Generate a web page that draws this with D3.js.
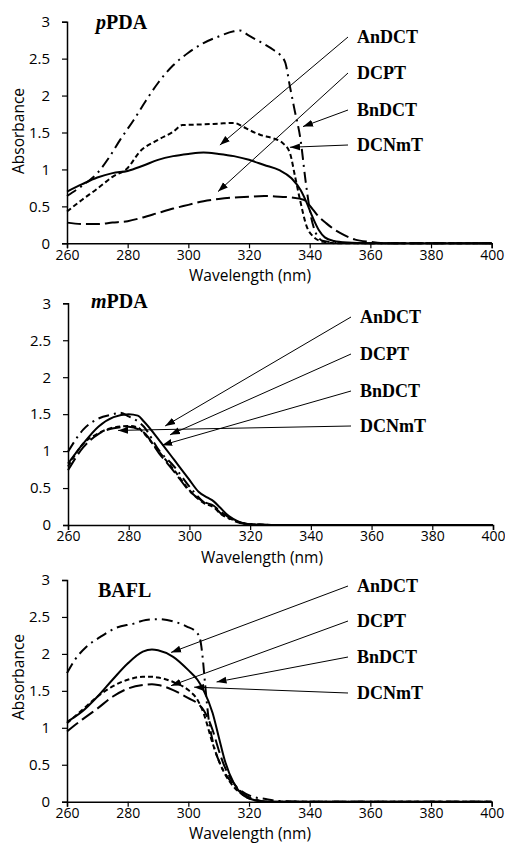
<!DOCTYPE html>
<html>
<head>
<meta charset="utf-8">
<script src="https://cdn.jsdelivr.net/npm/d3@7"></script>
<style>
  body { margin: 0; background: #fff; }
  .tick text { font-family: "Open Sans", sans-serif; font-size: 15px; fill: #000; }
  .xax .tick text { font-size: 14px; }
  .axisTitle { font-family: "Open Sans", sans-serif; font-size: 15.5px; fill: #000; }
  .panelTitle, .seriesLabel { font-family: "Liberation Serif", "Times New Roman", serif; font-weight: bold; fill: #000; }
</style>
</head>
<body>
<div id="chart"></div>
<script>
// series, shared ticks
var seriesNames = ["AnDCT", "DCPT", "BnDCT", "DCNmT"];
var xTicks = [260, 280, 300, 320, 340, 360, 380, 400];
var yTicks = [0, 0.5, 1, 1.5, 2, 2.5, 3];

// pPDA  [wavelength, absorbance]
var pAnDCT = [[260,0.70],[265,0.80],[270,0.89],[275,0.95],[280,0.98],[285,1.05],[290,1.13],[295,1.18],[300,1.21],[305,1.23],[310,1.21],[315,1.18],[320,1.13],[325,1.06],[330,0.99],[334,0.88],[337,0.72],[339,0.55],[341,0.35],[343,0.18],[345,0.08],[348,0.03],[352,0.01],[360,0],[400,0]];
var pDCPT = [[260,0.28],[265,0.26],[270,0.26],[275,0.28],[280,0.30],[285,0.35],[290,0.41],[295,0.47],[300,0.52],[305,0.57],[310,0.60],[315,0.62],[320,0.63],[325,0.64],[330,0.63],[334,0.62],[338,0.59],[341,0.46],[343,0.36],[345.5,0.27],[348,0.19],[350,0.14],[355,0.05],[360,0.02],[365,0],[400,0]];
var pBnDCT = [[260,0.64],[265,0.78],[270,0.95],[274,1.17],[277.5,1.40],[282,1.67],[286,1.93],[290,2.17],[295,2.41],[300,2.58],[305,2.71],[310,2.80],[315,2.87],[317,2.88],[320,2.81],[324,2.72],[328,2.62],[330.5,2.54],[332,2.44],[333.5,2.12],[335,1.81],[337,1.40],[338.6,0.86],[340.2,0.41],[342,0.14],[344.5,0.03],[350,0.01],[360,0],[400,0]];
var pDCNmT = [[260,0.43],[265,0.59],[270,0.74],[275,0.90],[280,1.02],[284,1.24],[290,1.40],[295,1.51],[298,1.60],[305,1.61],[310,1.62],[315,1.63],[318,1.58],[320.3,1.53],[323.6,1.47],[328,1.42],[331.3,1.35],[333.5,1.22],[335.2,0.90],[336.8,0.59],[339,0.23],[341.2,0.09],[344.5,0.02],[350,0],[400,0]];

// mPDA
var mAnDCT = [[260,0.83],[265,1.10],[270,1.33],[275,1.46],[280,1.50],[283,1.48],[285,1.40],[290,1.15],[295,0.88],[300,0.61],[303,0.45],[306,0.37],[308,0.32],[310,0.24],[313,0.12],[316,0.05],[320,0.01],[330,0],[400,0]];
var mDCPT = [[260,0.74],[265,1.05],[270,1.23],[275,1.31],[280,1.33],[285,1.25],[290,0.97],[295,0.72],[300,0.46],[305,0.31],[308,0.26],[310,0.19],[315,0.06],[320,0.01],[330,0],[400,0]];
var mBnDCT = [[260,0.99],[265,1.29],[270,1.44],[275,1.50],[277,1.52],[280,1.47],[285,1.33],[290,1.01],[295,0.79],[300,0.52],[305,0.30],[308,0.25],[310,0.17],[315,0.05],[320,0.01],[330,0],[400,0]];
var mDCNmT = [[260,0.79],[265,1.10],[270,1.24],[275,1.32],[280,1.34],[283,1.32],[285,1.24],[290,0.99],[295,0.74],[300,0.47],[305,0.29],[308,0.24],[310,0.16],[315,0.06],[320,0.01],[330,0],[400,0]];

// BAFL
var bAnDCT = [[260,1.08],[265,1.22],[270,1.42],[275,1.65],[280,1.87],[285,2.03],[288,2.06],[290,2.05],[295,1.96],[300,1.78],[303,1.65],[305,1.51],[308,1.20],[310,0.88],[312,0.56],[315,0.25],[318,0.09],[322,0.02],[326,0],[400,0]];
var bDCPT = [[260,0.95],[265,1.11],[270,1.26],[275,1.42],[280,1.53],[285,1.58],[288,1.59],[290,1.58],[295,1.51],[300,1.40],[303,1.33],[305,1.24],[308,0.97],[310,0.70],[312,0.47],[315,0.25],[318,0.11],[322,0.03],[326,0],[400,0]];
var bBnDCT = [[260,1.74],[262.6,1.92],[266.5,2.10],[271,2.23],[276,2.35],[282,2.41],[286,2.46],[290,2.47],[295,2.44],[299.5,2.37],[302.5,2.30],[303.8,2.21],[304.7,1.96],[305.5,1.60],[306.6,1.15],[308.2,0.79],[310.4,0.52],[313.7,0.29],[317,0.16],[321,0.07],[325,0.04],[330,0.01],[340,0],[400,0]];
var bDCNmT = [[260,1.06],[265,1.24],[270,1.42],[275,1.56],[280,1.65],[285,1.69],[288,1.69],[290,1.68],[295,1.62],[300,1.51],[303,1.38],[305,1.20],[308,0.79],[310,0.56],[312,0.38],[315,0.20],[318,0.09],[322,0.02],[326,0],[400,0]];

// arrow tips, in data units, same order as seriesNames
var pArrowTips = [[310.4,1.33],[309.8,0.70],[337.8,1.58],[333.5,1.30]];
var mArrowTips = [[292,1.34],[293.6,1.22],[291,1.08],[276.5,1.28]];
var bArrowTips = [[294.3,2.02],[294.3,1.57],[309.3,1.62],[301.9,1.55]];

var width = 505, height = 844;

var panels = [
  { title: "PDA", pre: "p", series: [pAnDCT, pDCPT, pBnDCT, pDCNmT], tips: pArrowTips,
    top: 21.7, bottom: 243.3, left: 67, right: 491.7, titleX: 96, titleY: 29,
    labelX: 357, labelY: [43, 79, 116, 151], yTitle: true, yTitleY: 131, xTitleX: 250 },
  { title: "PDA", pre: "m", series: [mAnDCT, mDCPT, mBnDCT, mDCNmT], tips: mArrowTips,
    top: 303.3, bottom: 525, left: 68, right: 493, titleX: 91, titleY: 308,
    labelX: 360, labelY: [323, 360, 397, 432], yTitle: false, xTitleX: 262 },
  { title: "BAFL", pre: "", series: [bAnDCT, bDCPT, bBnDCT, bDCNmT], tips: bArrowTips,
    top: 580, bottom: 801.7, left: 67, right: 491.7, titleX: 98, titleY: 597,
    labelX: 357, labelY: [592, 627, 663, 699], yTitle: true, yTitleY: 677, xTitleX: 250 }
];

// line styles: solid, long dash, dash-dot, short dash
var dashes = ["none", "14,5", "11,5,2,5", "5,3"];

var svg = d3.select("#chart").append("svg")
  .attr("width", width)
  .attr("height", height);

svg.append("defs").append("marker")
  .attr("id", "arrow")
  .attr("viewBox", "0 -4 10 8")
  .attr("refX", 10)
  .attr("refY", 0)
  .attr("markerUnits", "userSpaceOnUse")
  .attr("markerWidth", 10)
  .attr("markerHeight", 8)
  .attr("orient", "auto")
  .append("path")
  .attr("d", "M0,-3.5L10,0L0,3.5Z")
  .attr("fill", "#000");

panels.forEach(function(p) {
  var x = d3.scaleLinear().domain([260, 400]).range([p.left, p.right]);
  var y = d3.scaleLinear().domain([0, 3]).range([p.bottom, p.top]);
  var g = svg.append("g");

  var line = d3.line()
    .x(function(d) { return x(d[0]); })
    .y(function(d) { return y(d[1]); })
    .curve(d3.curveMonotoneX);

  // curves
  p.series.forEach(function(s, i) {
    g.append("path")
      .datum(s)
      .attr("d", line)
      .attr("fill", "none")
      .attr("stroke", "#000")
      .attr("stroke-width", 2)
      .attr("stroke-dasharray", dashes[i]);
  });

  // axes
  var xAxis = g.append("g")
    .attr("class", "xax")
    .attr("transform", "translate(0," + p.bottom + ")")
    .call(d3.axisBottom(x).tickValues(xTicks).tickSize(5).tickPadding(1.5).tickFormat(d3.format("d")));
  var yAxis = g.append("g")
    .attr("transform", "translate(" + p.left + ",0)")
    .call(d3.axisLeft(y).tickValues(yTicks).tickSize(5).tickPadding(12).tickFormat(function(d) { return d; }));
  [xAxis, yAxis].forEach(function(a) {
    a.select(".domain").attr("stroke", "#000").attr("stroke-width", 1.5);
    a.selectAll(".tick line").attr("stroke", "#000").attr("stroke-width", 1.2);
  });

  // axis titles
  g.append("text")
    .attr("class", "axisTitle")
    .attr("x", p.xTitleX)
    .attr("y", p.bottom + 37.5)
    .attr("text-anchor", "middle")
    .text("Wavelength (nm)");
  if (p.yTitle) {
    g.append("text")
      .attr("class", "axisTitle")
      .attr("transform", "translate(24," + p.yTitleY + ") rotate(-90)")
      .attr("text-anchor", "middle")
      .text("Absorbance");
  }

  // panel title
  var t = g.append("text")
    .attr("class", "panelTitle")
    .attr("x", p.titleX)
    .attr("y", p.titleY)
    .style("font-size", "20px");
  if (p.pre) t.append("tspan").style("font-style", "italic").text(p.pre);
  t.append("tspan").text(p.title);

  // series labels with arrows
  seriesNames.forEach(function(name, i) {
    g.append("text")
      .attr("class", "seriesLabel")
      .attr("x", p.labelX)
      .attr("y", p.labelY[i])
      .style("font-size", "18px")
      .text(name);
    g.append("line")
      .attr("x1", p.labelX - 9)
      .attr("y1", p.labelY[i] - 6)
      .attr("x2", x(p.tips[i][0]))
      .attr("y2", y(p.tips[i][1]))
      .attr("stroke", "#000")
      .attr("stroke-width", 1)
      .attr("marker-end", "url(#arrow)");
  });
});
</script>
</body>
</html>
